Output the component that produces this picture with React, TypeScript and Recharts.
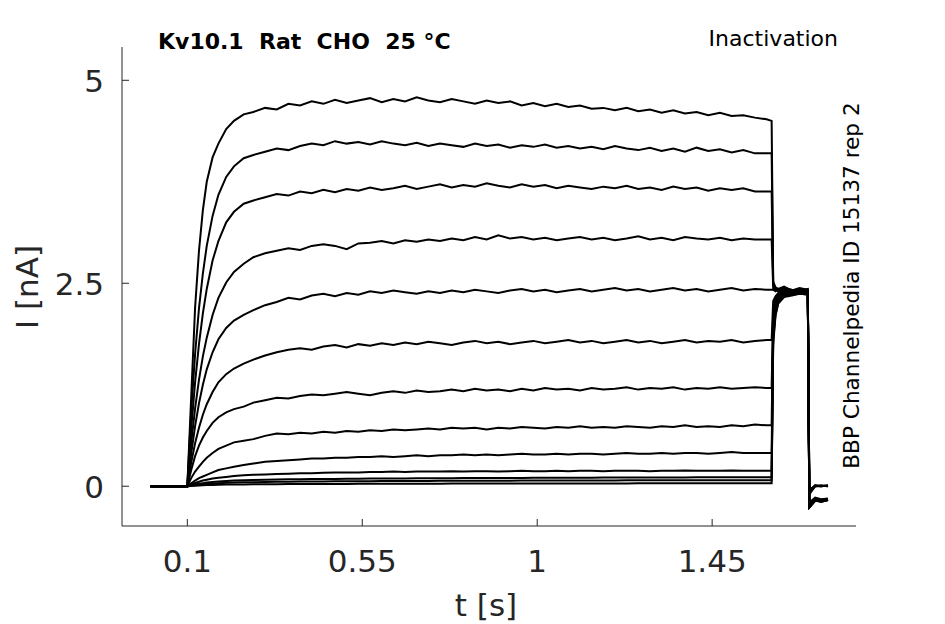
import { LineChart, Line, XAxis, YAxis } from 'recharts';

// sample times [s]: baseline, activation, pulse plateau, tail, return
const time = [
  0.005, 0.1, 0.11, 0.12, 0.13, 0.14, 0.15, 0.165, 0.18, 0.2, 0.22, 0.245,
  0.27, 0.3, 0.33, 0.36, 0.39, 0.42, 0.45, 0.48, 0.51, 0.54, 0.57, 0.6, 0.63, 0.66, 0.69,
  0.72, 0.75, 0.78, 0.81, 0.84, 0.87, 0.9, 0.93, 0.96, 0.99, 1.02, 1.05, 1.08, 1.11, 1.14,
  1.17, 1.2, 1.23, 1.26, 1.29, 1.32, 1.35, 1.38, 1.41, 1.44, 1.47, 1.5, 1.53, 1.56, 1.59,
  1.603, 1.607, 1.613, 1.62, 1.635, 1.655, 1.675, 1.696,
  1.7, 1.715, 1.73, 1.748,
];

// current [nA], one array per sweep
const sweep1 = [
  0, 0, 1.1, 2.2, 2.9, 3.4, 3.75, 4.05, 4.22, 4.4, 4.5, 4.58,
  4.61, 4.66, 4.64, 4.71, 4.69, 4.74, 4.71, 4.76, 4.72, 4.75, 4.78, 4.73, 4.77, 4.74, 4.79,
  4.75, 4.73, 4.77, 4.74, 4.71, 4.75, 4.72, 4.74, 4.69, 4.72, 4.68, 4.71, 4.67, 4.69, 4.65,
  4.66, 4.63, 4.66, 4.62, 4.64, 4.6, 4.63, 4.59, 4.61, 4.57, 4.6, 4.56, 4.57, 4.54, 4.52,
  4.5, 2.52, 2.45, 2.43, 2.46, 2.41, 2.44, 2.42,
  -0.05, 0.01, 0.0, 0.01,
];
const sweep2 = [
  0, 0, 0.92, 1.63, 2.19, 2.62, 2.96, 3.33, 3.59, 3.81, 3.94, 4.04,
  4.08, 4.12, 4.16, 4.14, 4.19, 4.22, 4.2, 4.25, 4.22, 4.24, 4.21, 4.25, 4.22, 4.2, 4.23,
  4.19, 4.22, 4.2, 4.18, 4.22, 4.19, 4.21, 4.17, 4.2, 4.18, 4.21, 4.17, 4.19, 4.16, 4.18,
  4.15, 4.19, 4.16, 4.14, 4.17, 4.13, 4.16, 4.12, 4.17, 4.13, 4.15, 4.11, 4.14, 4.1, 4.1,
  4.1, 2.5, 2.44, 2.41, 2.44, 2.4, 2.43, 2.41,
  -0.05, 0.0, 0.01, 0.0,
];
const sweep3 = [
  0, 0, 0.7, 1.28, 1.75, 2.13, 2.43, 2.78, 3.02, 3.25, 3.38, 3.48,
  3.52, 3.56, 3.6, 3.58, 3.63, 3.61, 3.65, 3.62, 3.66, 3.64, 3.68, 3.65, 3.67, 3.7, 3.66,
  3.69, 3.72, 3.68, 3.71, 3.69, 3.73, 3.7, 3.68, 3.72, 3.69, 3.71, 3.67, 3.7, 3.68, 3.66,
  3.69, 3.67, 3.7, 3.66, 3.68, 3.65, 3.69, 3.66, 3.68, 3.64, 3.67, 3.65, 3.67, 3.63, 3.63,
  3.63, 2.47, 2.43, 2.42, 2.45, 2.41, 2.42, 2.4,
  -0.06, 0.01, 0.0, 0.01,
];
const sweep4 = [
  0, 0, 0.53, 0.96, 1.31, 1.6, 1.83, 2.11, 2.32, 2.51, 2.64, 2.74,
  2.82, 2.87, 2.9, 2.93, 2.91, 2.96, 2.98, 2.96, 2.92, 2.99, 3.0, 3.02, 2.99, 3.03, 3.01,
  3.04, 3.02, 3.05, 3.03, 3.07, 3.04, 3.09, 3.05, 3.07, 3.04, 3.06, 3.03, 3.05, 3.07, 3.04,
  3.06, 3.03, 3.05, 3.08, 3.04, 3.06, 3.03, 3.07, 3.05, 3.04, 3.06, 3.03, 3.05, 3.04, 3.04,
  3.04, 2.44, 2.42, 2.4, 2.44, 2.42, 2.41, 2.43,
  -0.08, 0.0, 0.01, 0.0,
];
const sweep5 = [
  0, 0, 0.4, 0.74, 1.02, 1.25, 1.44, 1.65, 1.81, 1.95, 2.04, 2.11,
  2.17, 2.23, 2.27, 2.32, 2.3, 2.35, 2.37, 2.34, 2.38, 2.36, 2.4, 2.38, 2.41, 2.39, 2.37,
  2.4, 2.38, 2.41, 2.39, 2.42, 2.4, 2.38, 2.41, 2.43, 2.4, 2.42, 2.39, 2.41, 2.43, 2.4,
  2.42, 2.44, 2.41, 2.43, 2.4, 2.42, 2.44, 2.41, 2.43, 2.4, 2.42, 2.44, 2.41, 2.43, 2.42,
  2.42, 2.42, 2.4, 2.42, 2.43, 2.39, 2.42, 2.41,
  -0.1, 0.0, 0.0, 0.01,
];
const sweep6 = [
  0, 0, 0.29, 0.53, 0.72, 0.88, 1.01, 1.16, 1.28, 1.38, 1.45, 1.51,
  1.56, 1.61, 1.65, 1.68, 1.7, 1.68, 1.72, 1.74, 1.71, 1.75, 1.73, 1.76, 1.74, 1.77, 1.75,
  1.78, 1.76, 1.74, 1.77, 1.79, 1.76, 1.78, 1.75, 1.77, 1.79, 1.76, 1.78, 1.8, 1.77, 1.79,
  1.76, 1.78, 1.8, 1.77, 1.79, 1.76, 1.78, 1.8, 1.77, 1.79, 1.78, 1.8, 1.77, 1.79, 1.8,
  1.8, 2.28, 2.34, 2.38, 2.42, 2.4, 2.43, 2.4,
  -0.2, -0.14, -0.16, -0.15,
];
const sweep7 = [
  0, 0, 0.2, 0.37, 0.5, 0.6, 0.68, 0.78, 0.85, 0.91, 0.95, 0.98,
  1.03, 1.06, 1.09, 1.08, 1.11, 1.13, 1.12, 1.14, 1.16, 1.14, 1.12, 1.15, 1.17, 1.15, 1.18,
  1.16, 1.17, 1.19, 1.17, 1.2, 1.18, 1.19, 1.17, 1.2, 1.18, 1.21, 1.19, 1.2, 1.18, 1.21,
  1.19, 1.2, 1.22, 1.19, 1.21, 1.2, 1.22, 1.19, 1.21, 1.2, 1.22, 1.2, 1.21, 1.22, 1.21,
  1.21, 2.2, 2.3, 2.36, 2.41, 2.38, 2.42, 2.39,
  -0.22, -0.15, -0.17, -0.16,
];
const sweep8 = [
  0, 0, 0.1, 0.18, 0.24, 0.3, 0.35, 0.41, 0.46, 0.5, 0.54, 0.56,
  0.58, 0.62, 0.65, 0.64, 0.66, 0.65, 0.67, 0.66, 0.68, 0.67, 0.69, 0.68, 0.7, 0.69, 0.7,
  0.71, 0.7, 0.72, 0.71, 0.72, 0.7, 0.72, 0.71, 0.73, 0.72, 0.71, 0.73, 0.72, 0.74, 0.72,
  0.73, 0.72, 0.74, 0.73, 0.72, 0.74, 0.73, 0.75, 0.73, 0.74, 0.73, 0.75, 0.74, 0.76, 0.75,
  0.75, 2.1, 2.27, 2.34, 2.39, 2.4, 2.41, 2.38,
  -0.24, -0.16, -0.18, -0.17,
];
const sweep9 = [
  0, 0, 0.035, 0.07, 0.1, 0.12, 0.14, 0.17, 0.2, 0.22, 0.24, 0.26,
  0.28, 0.3, 0.31, 0.32, 0.33, 0.34, 0.34, 0.35, 0.35, 0.36, 0.36, 0.37, 0.36, 0.37, 0.38,
  0.37, 0.38, 0.38, 0.39, 0.38, 0.39, 0.38, 0.39, 0.4, 0.39, 0.39, 0.4, 0.39, 0.4, 0.4,
  0.39, 0.4, 0.41, 0.4, 0.4, 0.41, 0.4, 0.41, 0.41, 0.4, 0.41, 0.42, 0.41, 0.41, 0.41,
  0.41, 2.0, 2.23, 2.32, 2.38, 2.37, 2.4, 2.38,
  -0.25, -0.17, -0.18, -0.16,
];
const sweep10 = [
  0, 0, 0.02, 0.04, 0.055, 0.07, 0.08, 0.095, 0.105, 0.115, 0.125, 0.135,
  0.14, 0.145, 0.15, 0.155, 0.16, 0.16, 0.165, 0.17, 0.17, 0.17, 0.175, 0.175, 0.18, 0.175, 0.18,
  0.18, 0.18, 0.185, 0.18, 0.185, 0.185, 0.18, 0.185, 0.19, 0.185, 0.185, 0.19, 0.185, 0.19, 0.19,
  0.185, 0.19, 0.19, 0.19, 0.185, 0.19, 0.19, 0.195, 0.19, 0.19, 0.19, 0.195, 0.19, 0.19, 0.19,
  0.19, 1.9, 2.18, 2.3, 2.36, 2.38, 2.39, 2.37,
  -0.26, -0.17, -0.19, -0.17,
];
const sweep11 = [
  0, 0, 0.012, 0.022, 0.03, 0.038, 0.045, 0.052, 0.058, 0.064, 0.07, 0.075,
  0.078, 0.08, 0.083, 0.085, 0.087, 0.088, 0.09, 0.09, 0.092, 0.093, 0.094, 0.095, 0.096, 0.096, 0.097,
  0.098, 0.098, 0.099, 0.1, 0.1, 0.1, 0.101, 0.102, 0.102, 0.103, 0.103, 0.104, 0.104, 0.105, 0.105,
  0.106, 0.106, 0.106, 0.107, 0.107, 0.108, 0.108, 0.108, 0.109, 0.109, 0.109, 0.11, 0.11, 0.11, 0.11,
  0.11, 1.85, 2.15, 2.28, 2.35, 2.36, 2.38, 2.37,
  -0.26, -0.18, -0.19, -0.17,
];
const sweep12 = [
  0, 0, 0.008, 0.015, 0.02, 0.025, 0.03, 0.035, 0.038, 0.042, 0.045, 0.048,
  0.05, 0.052, 0.054, 0.056, 0.057, 0.058, 0.059, 0.06, 0.061, 0.062, 0.062, 0.063, 0.064, 0.064, 0.065,
  0.065, 0.066, 0.066, 0.067, 0.067, 0.068, 0.068, 0.068, 0.069, 0.069, 0.069, 0.07, 0.07, 0.07, 0.071,
  0.071, 0.071, 0.072, 0.072, 0.072, 0.072, 0.073, 0.073, 0.073, 0.073, 0.074, 0.074, 0.074, 0.074, 0.074,
  0.074, 1.8, 2.12, 2.26, 2.34, 2.36, 2.37, 2.36,
  -0.26, -0.18, -0.18, -0.17,
];
const sweep13 = [
  0, 0, 0.004, 0.007, 0.01, 0.012, 0.014, 0.016, 0.018, 0.02, 0.021, 0.022,
  0.023, 0.024, 0.025, 0.026, 0.026, 0.027, 0.027, 0.028, 0.028, 0.029, 0.029, 0.03, 0.03, 0.03, 0.031,
  0.031, 0.031, 0.032, 0.032, 0.032, 0.033, 0.033, 0.033, 0.033, 0.034, 0.034, 0.034, 0.034, 0.035, 0.035,
  0.035, 0.035, 0.035, 0.036, 0.036, 0.036, 0.036, 0.036, 0.037, 0.037, 0.037, 0.037, 0.037, 0.037, 0.037,
  0.037, 1.75, 2.1, 2.25, 2.33, 2.35, 2.37, 2.36,
  -0.26, -0.17, -0.19, -0.17,
];

const sweeps = [sweep1, sweep2, sweep3, sweep4, sweep5, sweep6, sweep7, sweep8, sweep9, sweep10, sweep11, sweep12, sweep13];

const xTicks = [0.1, 0.55, 1, 1.45];
const yTicks = [0, 2.5, 5];

const data = time.map((t, i) => {
  const row: Record<string, number> = { t };
  sweeps.forEach((s, k) => {
    row[`s${k}`] = s[i];
  });
  return row;
});

const INK = '#262626';
const FONT = 'DejaVu Sans';

const XTick = ({ x, y, payload }: any) => (
  <g>
    <line x1={x} x2={x} y1={y} y2={y - 7} stroke={INK} strokeWidth={1} />
    <text x={x} y={y + 46} textAnchor="middle" fontSize={31} fill={INK} fontFamily={FONT}>
      {String(payload.value)}
    </text>
  </g>
);

const YTick = ({ x, y, payload }: any) => (
  <g>
    <line x1={x} x2={x + 7} y1={y} y2={y} stroke={INK} strokeWidth={1} />
    <text x={x - 18} y={y + 12} textAnchor="end" fontSize={31} fill={INK} fontFamily={FONT}>
      {String(payload.value)}
    </text>
  </g>
);

export default function App() {
  return (
    <div style={{ position: 'relative', width: 945, height: 624, background: '#fff' }}>
      <style>{'body { margin: 0; }'}</style>
      <LineChart width={945} height={624} data={data} margin={{ top: 47, right: 89, left: 0, bottom: 0 }}>
        <XAxis
          dataKey="t"
          type="number"
          domain={[-0.068, 1.82]}
          ticks={xTicks}
          allowDataOverflow
          height={98}
          tickSize={0}
          tickMargin={0}
          tickLine={false}
          axisLine={{ stroke: INK, strokeWidth: 1 }}
          tick={(p: any) => <XTick {...p} />}
        />
        <YAxis
          type="number"
          domain={[-0.49, 5.41]}
          ticks={yTicks}
          allowDataOverflow
          width={122}
          tickSize={0}
          tickMargin={0}
          tickLine={false}
          axisLine={{ stroke: INK, strokeWidth: 1 }}
          tick={(p: any) => <YTick {...p} />}
        />
        {sweeps.map((_, k) => (
          <Line
            key={k}
            dataKey={`s${k}`}
            type="linear"
            stroke="#000"
            strokeWidth={2}
            dot={false}
            isAnimationActive={false}
          />
        ))}
      </LineChart>
      <svg
        width={945}
        height={624}
        style={{ position: 'absolute', left: 0, top: 0, pointerEvents: 'none' }}
        fontFamily={FONT}
      >
        <text x={158} y={48.5} fontSize={22} fontWeight="bold" fill="#000" style={{ whiteSpace: 'pre' }}>
          {'Kv10.1  Rat  CHO  25 °C'}
        </text>
        <text x={838} y={46} fontSize={22} textAnchor="end" fill="#000">
          Inactivation
        </text>
        <text x={486} y={616} fontSize={31} textAnchor="middle" fill={INK}>
          t [s]
        </text>
        <text x={38} y={287} fontSize={31} textAnchor="middle" fill={INK} transform="rotate(-90 38 287)">
          I [nA]
        </text>
        <text x={859} y={285.5} fontSize={21.6} textAnchor="middle" fill="#000" transform="rotate(-90 859 285.5)">
          BBP Channelpedia ID 15137 rep 2
        </text>
      </svg>
    </div>
  );
}
